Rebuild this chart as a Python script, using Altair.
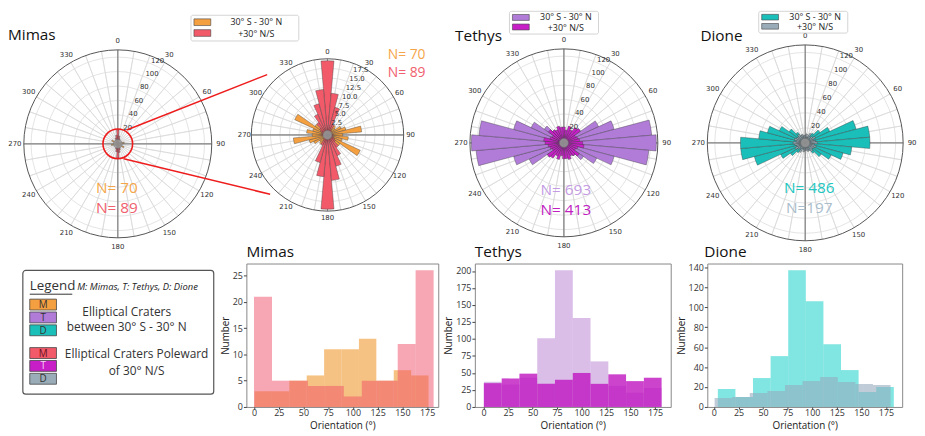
import math
import altair as alt
import pandas as pd

FONT = "Open Sans"
TAU = 2 * math.pi

# ---------------- rose diagrams: 10-degree bins centred on 0,10,...,170 (mirrored +180) ----------------
ROSE_CENTERS = list(range(0, 180, 10))
MIMAS_EQ_ROSE = [1, 1.5, 2, 2.5, 3, 2.5, 4, 5, 9, 4, 5.5, 4, 9.5, 4, 2.5, 2, 1.5, 1]
MIMAS_POLE_ROSE = [19.5, 11, 7.5, 3, 1.5, 1, 1, 0.5, 1, 1.5, 1, 1.5, 2, 2.5, 4, 6, 8.5, 12]
TETHYS_EQ_ROSE = [10, 9, 12, 14, 17, 28, 53, 72, 122, 128, 118, 72, 50, 33, 22, 15, 12, 9]
TETHYS_POLE_ROSE = [22, 18, 24, 20, 26, 28, 18, 20, 22, 26, 28, 20, 18, 26, 22, 20, 24, 22]
DIONE_EQ_ROSE = [7, 9, 8, 12, 16, 24, 36, 70, 86, 86, 62, 52, 38, 26, 17, 11, 9, 7]
DIONE_POLE_ROSE = [10, 12, 8, 14, 10, 12, 15, 12, 14, 16, 12, 15, 13, 12, 14, 11, 12, 10]

SPOKE_ANGLES = list(range(0, 360, 10))
CARDINAL_ANGLES = [0, 90, 180, 270]
ANGLE_LABELS = list(range(0, 360, 30))
BIG_RINGS = [20, 40, 60, 80, 100, 120]
INSET_RINGS = [2.5, 5.0, 7.5, 10.0, 12.5, 15.0, 17.5]

N_MIMAS_EQ, N_MIMAS_POLE = 70, 89
N_TETHYS_EQ, N_TETHYS_POLE = 693, 413
N_DIONE_EQ, N_DIONE_POLE = 486, 197

# ---------------- histograms (bin edges and counts) ----------------
HIST_X_TICKS = [0, 25, 50, 75, 100, 125, 150, 175]
MIMAS_EQ_EDGES = [0.5, 18.1, 35.7, 53.3, 70.9, 88.5, 106.1, 123.7, 141.3, 158.9, 176.5]
MIMAS_EQ_COUNTS = [3, 3, 5, 6, 11, 11, 13, 5, 7, 6]
MIMAS_POLE_EDGES = [0.0, 18.2, 36.3, 54.5, 72.6, 90.8, 109.0, 127.1, 145.3, 163.4, 181.6]
MIMAS_POLE_COUNTS = [21, 5, 5, 4, 4, 2, 5, 5, 12, 26]
TETHYS_EQ_EDGES = [0.2, 18.4, 36.5, 54.7, 72.8, 91.0, 109.1, 127.3, 145.4, 163.6, 181.7]
TETHYS_EQ_COUNTS = [37, 33, 43, 101, 201, 131, 67, 31, 21, 28]
TETHYS_POLE_EDGES = [0.2, 18.4, 36.5, 54.7, 72.8, 91.0, 109.1, 127.3, 145.4, 163.6, 181.7]
TETHYS_POLE_COUNTS = [35, 42, 49, 34, 40, 50, 34, 48, 38, 43]
DIONE_EQ_EDGES = [4.0, 21.9, 39.8, 57.7, 75.6, 93.5, 111.4, 129.3, 147.2, 165.1, 183.0]
DIONE_EQ_COUNTS = [18, 10, 29, 51, 137, 106, 63, 37, 15, 20]
DIONE_POLE_EDGES = [0.7, 18.6, 36.5, 54.4, 72.3, 90.2, 108.1, 126.0, 143.9, 161.8, 179.7]
DIONE_POLE_COUNTS = [9, 10, 14, 16, 22, 26, 30, 25, 23, 22]

# colours
C_M_EQ, C_M_POLE = "#F5A040", "#F25A6A"
C_T_EQ, C_T_POLE = "#B07CD8", "#C81EC8"
C_D_EQ, C_D_POLE = "#1BBFBA", "#9AACB8"

ONE = pd.DataFrame({"k": [0]})
TH = alt.Scale(domain=[0, 360], range=[0, TAU])


def rose_table(values, key):
    t0, t1, v = [], [], []
    for c, val in zip(ROSE_CENTERS, values):
        for a in (c, c + 180):
            t0.append(a - 5)
            t1.append(a + 5)
            v.append(val)
    return pd.DataFrame({"t0": t0, "t1": t1, key: v})


def text(s, x, y, size, color="#222", **kw):
    kw.setdefault("font", FONT)
    return alt.Chart(ONE).mark_text(text=s, fontSize=size, color=color, **kw).encode(
        x=alt.value(x), y=alt.value(y))


def rect(x0, y0, x1, y1, **kw):
    return alt.Chart(ONE).mark_rect(**kw).encode(
        x=alt.value(x0), x2=alt.value(x1), y=alt.value(y0), y2=alt.value(y1))


def circle(cx, cy, r, **kw):
    return alt.Chart(ONE).mark_arc(**kw).encode(
        x=alt.value(cx), y=alt.value(cy), theta=alt.value(0), theta2=alt.value(TAU), radius=alt.value(r))


def rose(name, cx, cy, R, rmax, rings, fmt, eq, pole, c_eq, c_pole, gap):
    rs = alt.Scale(type="linear", domain=[0, rmax], range=[0, R], zero=True, nice=False)
    pos = dict(x=alt.value(cx), y=alt.value(cy))
    rk = "r_" + name
    vk = "v_" + name
    L = []
    L.append(alt.Chart(pd.DataFrame({"a": SPOKE_ANGLES})).mark_arc(
        filled=False, fillOpacity=0, stroke="#d8d8d8", strokeWidth=0.7).encode(
        theta=alt.Theta("a:Q", scale=TH, stack=None), theta2=alt.Theta2("a:Q"),
        radius=alt.value(R), **pos))
    ring_df = pd.DataFrame({rk: rings, "t0": [0] * len(rings), "t1": [360] * len(rings)})
    L.append(alt.Chart(ring_df).mark_arc(
        filled=False, fillOpacity=0, stroke="#d8d8d8", strokeWidth=0.7).encode(
        theta=alt.Theta("t0:Q", scale=TH, stack=None), theta2=alt.Theta2("t1:Q"),
        radius=alt.Radius(f"{rk}:Q", scale=rs), **pos))
    L.append(alt.Chart(pd.DataFrame({"a": CARDINAL_ANGLES})).mark_arc(
        filled=False, fillOpacity=0, stroke="#8a8a8a", strokeWidth=0.9).encode(
        theta=alt.Theta("a:Q", scale=TH, stack=None), theta2=alt.Theta2("a:Q"),
        radius=alt.value(R), **pos))
    L.append(circle(cx, cy, R, filled=False, fillOpacity=0, stroke="#555", strokeWidth=1))
    for vals, col in ((eq, c_eq), (pole, c_pole)):
        L.append(alt.Chart(rose_table(vals, vk)).mark_arc(
            fill=col, stroke="#3a3a3a", strokeWidth=0.4).encode(
            theta=alt.Theta("t0:Q", scale=TH, stack=None), theta2=alt.Theta2("t1:Q"),
            radius=alt.Radius(f"{vk}:Q", scale=rs), **pos))
    L.append(circle(cx, cy, 4.5, fill="#9a9a9a", fillOpacity=0.85, stroke="#777", strokeWidth=0.5))
    L.append(alt.Chart(pd.DataFrame({"a": ANGLE_LABELS})).mark_text(
        font="DejaVu Sans", fontSize=7, color="#333").encode(
        theta=alt.Theta("a:Q", scale=TH, stack=None), radius=alt.value(R + gap),
        text=alt.Text("a:Q", format="d"), **pos))
    L.append(alt.Chart(pd.DataFrame({rk: rings, "lab": [fmt(r) for r in rings]})).mark_text(
        font="DejaVu Sans", fontSize=7, color="#333", align="left", baseline="bottom").encode(
        theta=alt.value(22.5 * math.pi / 180), radius=alt.Radius(f"{rk}:Q", scale=rs),
        text="lab:N", **pos))
    return L


def legend_small(x0, y0, x1, y1, c1, c2, tx):
    h = (y1 - y0)
    L = [rect(x0, y0, x1, y1, fill="white", stroke="#c8c8c8", strokeWidth=0.8, cornerRadius=2)]
    L.append(rect(x0 + 3, y0 + h * 0.14, x0 + 20, y0 + h * 0.40, fill=c1, stroke="#444", strokeWidth=0.6))
    L.append(rect(x0 + 3, y0 + h * 0.56, x0 + 20, y0 + h * 0.82, fill=c2, stroke="#444", strokeWidth=0.6))
    L.append(text("30° S - 30° N", tx, y0 + h * 0.26, 9))
    L.append(text("+30° N/S", tx, y0 + h * 0.74, 9))
    return L


big_fmt = lambda r: str(int(r))
small_fmt = lambda r: f"{r:.1f}"

top_layers = []
top_layers += rose("mm", 111, 134, 95, 130, BIG_RINGS, big_fmt, MIMAS_EQ_ROSE, MIMAS_POLE_ROSE, C_M_EQ, C_M_POLE, 9)
top_layers += rose("mi", 323, 125, 77, 20, INSET_RINGS, small_fmt, MIMAS_EQ_ROSE, MIMAS_POLE_ROSE, C_M_EQ, C_M_POLE, 7)
top_layers += rose("t", 562, 133, 95, 130, BIG_RINGS, big_fmt, TETHYS_EQ_ROSE, TETHYS_POLE_ROSE, C_T_EQ, C_T_POLE, 9)
top_layers += rose("d", 806, 133, 99, 130, BIG_RINGS, big_fmt, DIONE_EQ_ROSE, DIONE_POLE_ROSE, C_D_EQ, C_D_POLE, 9)

# zoom highlight
top_layers.append(circle(111, 134, 15, filled=False, fillOpacity=0, stroke="#ee1c1c", strokeWidth=1.6))
top_layers.append(alt.Chart(ONE).mark_rule(color="#ee1c1c", strokeWidth=1.5).encode(
    x=alt.value(120), y=alt.value(120), x2=alt.value(262), y2=alt.value(64)))
top_layers.append(alt.Chart(ONE).mark_rule(color="#ee1c1c", strokeWidth=1.5).encode(
    x=alt.value(117), y=alt.value(149), x2=alt.value(265), y2=alt.value(185)))

# titles
top_layers.append(text("Mimas", 0, 24, 15.5, "#111", align="left"))
top_layers.append(text("Tethys", 452, 25, 15.5, "#111", align="left"))
top_layers.append(text("Dione", 700, 25, 15.5, "#111", align="left"))

# small legends
top_layers += legend_small(185, 4, 294, 30, C_M_EQ, C_M_POLE, 251)
top_layers += legend_small(507, 0, 597, 23, C_T_EQ, C_T_POLE, 564)
top_layers += legend_small(759, 0, 849, 22, C_D_EQ, C_D_POLE, 816)

# N labels
top_layers.append(text(f"N= {N_MIMAS_EQ}", 110, 179, 15.5, "#F5A64A"))
top_layers.append(text(f"N= {N_MIMAS_POLE}", 110, 199, 15.5, "#F0606E"))
top_layers.append(text(f"N= {N_MIMAS_EQ}", 403, 44, 14, "#F5A64A"))
top_layers.append(text(f"N= {N_MIMAS_POLE}", 403, 62, 14, "#F0606E"))
top_layers.append(text(f"N= {N_TETHYS_EQ}", 564, 181, 15.5, "#C49BE4"))
top_layers.append(text(f"N= {N_TETHYS_POLE}", 564, 201, 15.5, "#C020C0"))
top_layers.append(text(f"N= {N_DIONE_EQ}", 810, 179, 15.5, "#22C6BF"))
top_layers.append(text(f"N={N_DIONE_POLE}", 810, 199, 15.5, "#A9BDCC"))

top = alt.layer(*top_layers).properties(width=909, height=255).resolve_scale(
    theta="independent", radius="independent")

# ---------------- bottom-left legend panel ----------------
leg = [rect(15, 7, 208, 132, fill="white", stroke="#555", strokeWidth=1.2, cornerRadius=3)]
leg.append(text("Legend", 22, 23, 13.5, "#333", align="left"))
leg.append(alt.Chart(ONE).mark_rule(color="#333", strokeWidth=1).encode(
    x=alt.value(22), x2=alt.value(65), y=alt.value(31), y2=alt.value(31)))
leg.append(text("M: Mimas, T: Tethys, D: Dione", 70, 24, 9.5, "#222", align="left", fontStyle="italic"))
sw = [("M", C_M_EQ, 36, "#333"), ("T", C_T_EQ, 49, "#333"), ("D", C_D_EQ, 62, "#333"),
      ("M", C_M_POLE, 85, "#6a1020"), ("T", C_T_POLE, 98, "#f4d0f4"), ("D", C_D_POLE, 111, "#333")]
for letter, col, y0, tc in sw:
    leg.append(rect(22, y0, 49, y0 + 11, fill=col, stroke="#444", strokeWidth=0.8))
    leg.append(text(letter, 35.5, y0 + 6, 10, tc))
leg.append(text("Elliptical Craters", 120, 49, 12, "#333"))
leg.append(text("between 30° S - 30° N", 120, 64, 12, "#333"))
leg.append(text("Elliptical Craters Poleward", 130, 92, 12, "#333"))
leg.append(text("of 30°  N/S", 130, 109, 12, "#333"))
legend_panel = alt.layer(*leg).properties(width=204, height=145)


# ---------------- histograms ----------------
def hist_df(edges, counts):
    return pd.DataFrame({"x0": edges[:-1], "x1": edges[1:], "n": counts, "base": [0] * len(counts)})


def hist_panel(title, dx, eq, pole, xdom, ydom, yticks, c_eq, o_eq, c_pole, o_pole, width):
    xs = alt.Scale(domain=xdom, nice=False, zero=False)
    ys = alt.Scale(domain=ydom, nice=False, zero=True)
    common = dict(grid=False, domain=False, tickColor="#444", labelFontSize=9,
                  labelColor="#333", titleFontSize=10, titleFontWeight="normal", titleColor="#222",
                  labelFont=FONT, titleFont=FONT)
    xax = alt.Axis(values=HIST_X_TICKS, title="Orientation (°)", tickSize=2, labelPadding=0,
                   titlePadding=3, **common)
    yax = alt.Axis(values=yticks, title="Number", tickSize=3, labelPadding=1, titlePadding=2, **common)

    def layer(d, col, op):
        return alt.Chart(hist_df(*d)).mark_rect(color=col, opacity=op).encode(
            x=alt.X("x0:Q", scale=xs, axis=xax), x2="x1:Q",
            y=alt.Y("n:Q", scale=ys, axis=yax), y2="base:Q")

    return alt.layer(layer(eq, c_eq, o_eq), layer(pole, c_pole, o_pole)).properties(
        width=width, height=145,
        title=alt.TitleParams(title, anchor="start", frame="group", dx=dx, fontSize=15.5,
                              fontWeight="normal", font=FONT, color="#111", offset=3),
        view=alt.ViewBackground(stroke="#888", strokeWidth=1))


hm = hist_panel("Mimas", 0, (MIMAS_EQ_EDGES, MIMAS_EQ_COUNTS), (MIMAS_POLE_EDGES, MIMAS_POLE_COUNTS),
                [-7.7, 186.3], [0, 27.3], [0, 5, 10, 15, 20, 25],
                "#F09A30", 0.6, "#F05068", 0.5, 194)
ht = hist_panel("Tethys", 0, (TETHYS_EQ_EDGES, TETHYS_EQ_COUNTS), (TETHYS_POLE_EDGES, TETHYS_POLE_COUNTS),
                [-9, 191], [0, 211], [0, 25, 50, 75, 100, 125, 150, 175, 200],
                "#B57DD1", 0.5, "#BF15BF", 0.8, 198)
hd = hist_panel("Dione", -3, (DIONE_EQ_EDGES, DIONE_EQ_COUNTS), (DIONE_POLE_EDGES, DIONE_POLE_COUNTS),
                [-6.7, 191.5], [0, 143.85], [0, 20, 40, 60, 80, 100, 120, 140],
                "#1ACFC8", 0.55, "#96ACBE", 0.6, 197)

bottom = alt.hconcat(legend_panel, hm, ht, hd, spacing=37, bounds="flush")

chart = alt.vconcat(top, bottom, spacing=0, bounds="flush").properties(padding=0).configure(
    font=FONT).configure_view(strokeWidth=0)

chart.save("out.html", embed_options={"renderer": "svg", "actions": False})
